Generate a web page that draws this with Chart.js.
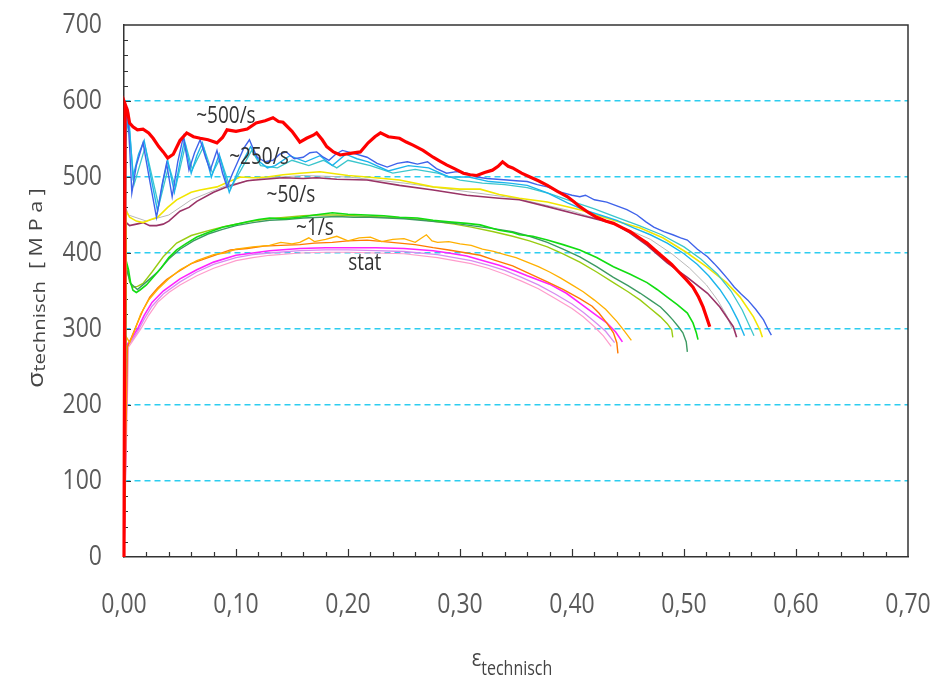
<!DOCTYPE html>
<html lang="de">
<head>
<meta charset="UTF-8">
<title>Spannung-Dehnung</title>
<script src="https://cdn.jsdelivr.net/npm/chart.js"></script>
<style>
  html, body { margin: 0; padding: 0; background: #fff; }
</style>
</head>
<body>
<canvas id="chart" width="930" height="679"></canvas>
<script>
// strain [-] / stress [MPa] pairs
const rate500 = [[0,0],[0.001,596],[0.003,588],[0.005,571],[0.008,566],[0.012,562],[0.017,563],[0.022,558],[0.026,551],[0.031,540],[0.035,533],[0.039,525],[0.044,530],[0.050,548],[0.056,558],[0.062,553],[0.068,551],[0.075,549],[0.083,545],[0.088,552],[0.092,562],[0.100,560],[0.110,563],[0.118,571],[0.126,574],[0.133,578],[0.138,573],[0.142,572],[0.150,560],[0.157,546],[0.163,551],[0.169,555],[0.172,558],[0.177,549],[0.181,540],[0.187,533],[0.193,529],[0.202,531],[0.211,533],[0.218,545],[0.224,553],[0.229,558],[0.236,553],[0.246,551],[0.252,546],[0.258,542],[0.267,535],[0.276,526],[0.282,521],[0.288,516],[0.295,511],[0.303,505],[0.309,503],[0.315,502],[0.322,506],[0.329,509],[0.334,514],[0.338,520],[0.343,514],[0.347,512],[0.355,505],[0.3625,500],[0.370,495],[0.378,489],[0.387,481],[0.396,474],[0.402,467],[0.407,461],[0.415,453],[0.422,447],[0.430,442],[0.437,439],[0.445,433],[0.452,428],[0.460,420],[0.467,413],[0.474,404],[0.481,395],[0.489,385],[0.496,374],[0.502,365],[0.508,355],[0.513,342],[0.517,329],[0.520,316],[0.523,303]];

const rate250a = [[0,0],[0.001,560],[0.003,592],[0.005,540],[0.007,479],[0.011,515],[0.017,545],[0.023,495],[0.029,447],[0.034,490],[0.038,518],[0.043,474],[0.048,520],[0.053,553],[0.058,509],[0.063,532],[0.068,549],[0.073,525],[0.077,509],[0.080,522],[0.083,535],[0.088,505],[0.092,487],[0.097,505],[0.101,518],[0.107,538],[0.112,549],[0.116,535],[0.119,526],[0.126,520],[0.133,522],[0.139,530],[0.145,533],[0.152,524],[0.160,526],[0.166,532],[0.172,533],[0.178,526],[0.183,522],[0.189,530],[0.195,535],[0.205,531],[0.217,526],[0.226,518],[0.235,513],[0.244,518],[0.253,520],[0.262,517],[0.271,520],[0.279,511],[0.288,505],[0.297,507],[0.306,505],[0.315,500],[0.324,498],[0.333,497],[0.342,496],[0.350,495],[0.360,494],[0.369,490],[0.378,487],[0.390,480],[0.400,476],[0.407,474],[0.412,476],[0.420,470],[0.431,467],[0.440,462],[0.449,457],[0.458,450],[0.466,441],[0.473,434],[0.482,428],[0.490,424],[0.497,420],[0.503,417],[0.512,405],[0.521,395],[0.527,386],[0.532,378],[0.539,366],[0.545,355],[0.551,346],[0.557,338],[0.564,326],[0.571,312],[0.575,300],[0.578,292]];

const rate250b = [[0,0],[0.001,540],[0.004,585],[0.008,500],[0.013,530],[0.018,548],[0.024,500],[0.030,455],[0.035,495],[0.039,522],[0.045,480],[0.050,520],[0.054,548],[0.060,505],[0.065,528],[0.070,545],[0.078,500],[0.085,530],[0.094,480],[0.103,512],[0.113,540],[0.121,520],[0.128,512],[0.135,515],[0.148,528],[0.162,520],[0.175,528],[0.186,515],[0.198,530],[0.208,524],[0.218,520],[0.236,508],[0.254,515],[0.272,512],[0.290,500],[0.308,500],[0.326,494],[0.344,492],[0.360,489],[0.378,479],[0.396,466],[0.410,457],[0.425,450],[0.440,443],[0.455,433],[0.470,424],[0.485,413],[0.500,399],[0.512,385],[0.522,370],[0.532,352],[0.541,332],[0.548,312],[0.554,291]];

const rate250c = [[0,0],[0.002,570],[0.005,560],[0.009,490],[0.019,540],[0.031,462],[0.040,515],[0.046,486],[0.055,543],[0.061,510],[0.071,540],[0.079,505],[0.086,525],[0.095,485],[0.104,508],[0.114,535],[0.122,515],[0.137,512],[0.150,522],[0.165,515],[0.178,522],[0.190,512],[0.200,522],[0.220,515],[0.240,505],[0.260,510],[0.280,505],[0.300,496],[0.320,492],[0.340,490],[0.360,486],[0.380,478],[0.400,468],[0.420,458],[0.440,447],[0.460,436],[0.480,424],[0.500,408],[0.515,392],[0.530,372],[0.542,350],[0.552,325],[0.5625,291]];

const rate50a = [[0,0],[0.002,455],[0.005,447],[0.011,442],[0.017,440],[0.024,444],[0.030,447],[0.039,460],[0.047,470],[0.060,480],[0.068,483],[0.083,487],[0.094,494],[0.104,500],[0.116,499],[0.128,500],[0.142,503],[0.157,505],[0.175,507],[0.200,502],[0.217,500],[0.246,496],[0.276,487],[0.300,484],[0.318,484],[0.335,477],[0.353,472],[0.378,467],[0.407,457],[0.437,443],[0.461,433],[0.481,420],[0.502,401],[0.520,382],[0.538,361],[0.550,342],[0.562,316],[0.568,298],[0.570,289]];

const rate50b = [[0,0],[0.002,440],[0.005,436],[0.011,438],[0.017,440],[0.023,436],[0.029,436],[0.035,438],[0.040,442],[0.050,455],[0.058,460],[0.065,468],[0.080,480],[0.092,487],[0.110,495],[0.125,497],[0.142,499],[0.160,498],[0.172,499],[0.190,497],[0.217,496],[0.246,489],[0.276,483],[0.306,476],[0.335,472],[0.353,470],[0.378,461],[0.407,450],[0.437,439],[0.450,428],[0.467,410],[0.485,387],[0.503,368],[0.521,347],[0.532,329],[0.544,303],[0.547,289]];

const rate50c = [[0,0],[0.002,458],[0.004,450],[0.020,442],[0.040,450],[0.060,470],[0.090,488],[0.120,498],[0.160,502],[0.200,500],[0.250,492],[0.300,482],[0.350,472],[0.400,455],[0.440,437],[0.470,418],[0.490,398],[0.505,380],[0.520,358],[0.530,338],[0.538,318],[0.543,300]];

const rate1a = [[0,0],[0.001,395],[0.004,378],[0.006,360],[0.008,351],[0.011,348],[0.014,351],[0.020,358],[0.026,368],[0.033,380],[0.040,394],[0.047,404],[0.055,412],[0.065,421],[0.075,427],[0.088,434],[0.098,437],[0.110,441],[0.120,444],[0.130,446],[0.143,445],[0.157,447],[0.170,450],[0.186,453],[0.200,451],[0.217,450],[0.232,449],[0.246,447],[0.262,446],[0.276,443],[0.290,441],[0.306,439],[0.318,437],[0.335,430],[0.347,427],[0.353,424],[0.365,422],[0.378,417],[0.392,411],[0.407,404],[0.422,394],[0.437,382],[0.452,372],[0.467,361],[0.476,352],[0.485,342],[0.494,332],[0.503,321],[0.508,308],[0.511,295],[0.5125,286]];

const rate1b = [[0,0],[0.002,380],[0.006,360],[0.012,352],[0.020,362],[0.030,375],[0.040,392],[0.050,405],[0.062,416],[0.075,425],[0.088,431],[0.100,436],[0.115,440],[0.130,443],[0.145,444],[0.160,446],[0.175,447],[0.190,448],[0.205,447],[0.220,447],[0.235,446],[0.250,445],[0.265,443],[0.280,441],[0.295,439],[0.310,436],[0.330,432],[0.347,428],[0.362,422],[0.378,414],[0.392,405],[0.407,395],[0.422,382],[0.437,368],[0.450,357],[0.461,347],[0.470,338],[0.479,329],[0.485,320],[0.490,312],[0.495,303],[0.499,295],[0.502,283],[0.503,270]];

const rate1c = [[0,0],[0.002,385],[0.005,362],[0.008,355],[0.012,356],[0.017,360],[0.025,375],[0.035,395],[0.047,413],[0.060,423],[0.077,430],[0.090,435],[0.100,438],[0.115,442],[0.130,445],[0.145,447],[0.160,449],[0.175,450],[0.190,450],[0.205,449],[0.220,448],[0.235,447],[0.250,446],[0.265,444],[0.280,441],[0.295,438],[0.310,434],[0.330,428],[0.347,422],[0.362,416],[0.378,408],[0.392,399],[0.407,388],[0.422,375],[0.437,361],[0.450,349],[0.461,338],[0.470,327],[0.479,316],[0.485,307],[0.489,299],[0.490,289]];

const statA = [[0,0],[0.003,276],[0.007,290],[0.012,308],[0.017,325],[0.023,342],[0.030,354],[0.038,365],[0.047,374],[0.060,386],[0.077,395],[0.095,404],[0.110,406],[0.125,409],[0.140,410],[0.157,411],[0.170,413],[0.186,414],[0.200,416],[0.217,417],[0.232,415],[0.246,413],[0.260,411],[0.276,407],[0.290,404],[0.306,400],[0.318,397],[0.330,391],[0.347,383],[0.362,373],[0.378,362],[0.392,352],[0.407,340],[0.418,330],[0.424,321],[0.431,308],[0.437,295],[0.440,282],[0.441,268]];

const statB = [[0,0],[0.002,290],[0.005,282],[0.010,300],[0.015,320],[0.022,338],[0.030,352],[0.040,366],[0.050,378],[0.065,390],[0.080,398],[0.090,400],[0.100,405],[0.115,408],[0.130,410],[0.140,414],[0.150,412],[0.157,414],[0.165,420],[0.170,415],[0.180,418],[0.190,422],[0.200,416],[0.210,420],[0.220,421],[0.230,415],[0.240,418],[0.250,419],[0.260,414],[0.270,424],[0.275,416],[0.280,414],[0.290,415],[0.300,412],[0.310,410],[0.320,405],[0.330,402],[0.340,398],[0.350,394],[0.360,388],[0.370,382],[0.380,375],[0.390,367],[0.400,358],[0.410,349],[0.420,338],[0.430,326],[0.440,310],[0.447,297],[0.453,285]];

const statC = [[0,0],[0.003,280],[0.007,288],[0.012,300],[0.018,318],[0.025,335],[0.035,350],[0.050,366],[0.065,378],[0.080,388],[0.100,397],[0.115,400],[0.130,403],[0.157,406],[0.180,407],[0.200,407],[0.225,407],[0.250,406],[0.276,403],[0.290,400],[0.306,396],[0.320,390],[0.335,384],[0.350,376],[0.360,370],[0.380,359],[0.395,347],[0.407,334],[0.420,320],[0.431,308],[0.439,296],[0.445,283]];

const statD = [[0,0],[0.003,278],[0.007,285],[0.012,296],[0.018,313],[0.025,330],[0.035,346],[0.050,362],[0.065,375],[0.080,385],[0.100,394],[0.115,398],[0.130,400],[0.157,403],[0.180,404],[0.200,404],[0.225,403],[0.250,402],[0.280,398],[0.310,390],[0.325,384],[0.340,377],[0.355,368],[0.370,358],[0.385,346],[0.400,333],[0.410,322],[0.420,310],[0.430,297],[0.438,282]];

const statE = [[0,0],[0.004,276],[0.009,287],[0.015,300],[0.022,318],[0.030,335],[0.040,348],[0.050,358],[0.065,370],[0.080,380],[0.100,390],[0.115,394],[0.130,397],[0.157,400],[0.180,401],[0.200,401],[0.225,400],[0.250,399],[0.280,394],[0.310,386],[0.325,380],[0.340,372],[0.355,363],[0.370,353],[0.385,340],[0.400,327],[0.410,316],[0.420,303],[0.428,291],[0.435,277]];

const seriesData = [rate500, rate250a, rate250b, rate250c, rate50a, rate50b, rate50c, rate1a, rate1b, rate1c, statB, statA, statC, statD, statE];
const seriesColors = ['#ff0000', '#3f63ea', '#1cb4ec', '#3cc6cc', '#f2e600', '#993366', '#b8b8b8', '#11dd11', '#3c9a62', '#99cc11', '#ffb000', '#ff7a00', '#ff22ff', '#d78cf0', '#ff9ccc'];
const seriesWidths = [3.2, 1.4, 1.4, 1.3, 1.6, 1.6, 1, 1.6, 1.4, 1.4, 1.3, 1.4, 1.6, 1.3, 1.2];

const rateLabels = ['~500/s', '~250/s', '~50/s', '~1/s', 'stat'];
const rateLabelX = [0.091, 0.1205, 0.149, 0.1705, 0.215];
const rateLabelY = [579, 526, 475, 432, 386];

const xTicks = [0, 0.1, 0.2, 0.3, 0.4, 0.5, 0.6, 0.7];
const yTicks = [0, 100, 200, 300, 400, 500, 600, 700];

const STRETCH = 1.2; // the picture's lettering is taller than wide

function putText(ctx, str, x, y, size, color, align) {
  ctx.save();
  ctx.translate(x, y);
  ctx.scale(1, STRETCH);
  ctx.font = size + 'px "Open Sans"';
  ctx.fillStyle = color;
  ctx.textAlign = align;
  ctx.textBaseline = 'middle';
  ctx.fillText(str, 0, 0);
  ctx.restore();
}

const decorations = {
  id: 'decorations',
  beforeDatasetsDraw(chart) {
    const ctx = chart.ctx;
    const a = chart.chartArea;
    const xs = chart.scales.x, ys = chart.scales.y;
    ctx.save();
    ctx.strokeStyle = '#333';
    ctx.lineWidth = 1.5;
    ctx.beginPath();
    ctx.moveTo(a.left, a.top);
    ctx.lineTo(a.right, a.top);
    ctx.lineTo(a.right, a.bottom);
    ctx.stroke();
    // inward ticks
    ctx.lineWidth = 1.2;
    ctx.beginPath();
    for (let v = 20; v < 700; v += 20) {
      const py = Math.round(ys.getPixelForValue(v)) + 0.5;
      const len = v % 100 === 0 ? 7 : 4;
      ctx.moveTo(a.left, py);
      ctx.lineTo(a.left + len, py);
    }
    for (let i = 1; i < 35; i++) {
      const px = Math.round(xs.getPixelForValue(i * 0.02)) + 0.5;
      const len = i % 5 === 0 ? 8 : 5;
      ctx.moveTo(px, a.bottom);
      ctx.lineTo(px, a.bottom - len);
    }
    ctx.stroke();
    ctx.restore();
  },
  afterDraw(chart) {
    const ctx = chart.ctx;
    const a = chart.chartArea;
    const xs = chart.scales.x, ys = chart.scales.y;
    yTicks.forEach(v => putText(ctx, String(v), 102, ys.getPixelForValue(v), 23, '#5a5a5a', 'right'));
    xTicks.forEach(v => putText(ctx, v.toFixed(2).replace('.', ','), xs.getPixelForValue(v), 605, 23, '#5a5a5a', 'center'));
    rateLabels.forEach((t, i) => putText(ctx, t, xs.getPixelForValue(rateLabelX[i]), ys.getPixelForValue(rateLabelY[i]), 19, '#333', 'center'));

    // x axis title: epsilon with subscript
    ctx.save();
    ctx.fillStyle = '#444';
    ctx.textBaseline = 'alphabetic';
    ctx.font = '20px "Open Sans"';
    const eW = ctx.measureText('ε').width;
    ctx.font = '16px "Open Sans"';
    const tW = ctx.measureText('technisch').width;
    let x0 = 512 - (eW + tW) / 2;
    ctx.translate(0, 0);
    ctx.save(); ctx.translate(x0, 666); ctx.scale(1, STRETCH);
    ctx.font = '20px "Open Sans"'; ctx.fillText('ε', 0, 0); ctx.restore();
    ctx.save(); ctx.translate(x0 + eW, 675); ctx.scale(1, STRETCH);
    ctx.font = '16px "Open Sans"'; ctx.fillText('technisch', 0, 0); ctx.restore();
    ctx.restore();

    // y axis title, rotated
    ctx.save();
    ctx.fillStyle = '#444';
    ctx.textBaseline = 'alphabetic';
    ctx.translate(45, 288);
    ctx.rotate(-Math.PI / 2);
    ctx.scale(STRETCH, 1);
    ctx.font = '22px "Open Sans"';
    const sW = ctx.measureText('σ').width;
    ctx.font = '17px "Open Sans"';
    const t2W = ctx.measureText('technisch').width;
    ctx.font = '18px "Open Sans"';
    const uW = ctx.measureText('[ M P a ]').width;
    const gap = 10;
    let s0 = -(sW + t2W + gap + uW) / 2;
    ctx.font = '22px "Open Sans"'; ctx.fillText('σ', s0, -2);
    ctx.font = '17px "Open Sans"'; ctx.fillText('technisch', s0 + sW, 0);
    ctx.font = '18px "Open Sans"'; ctx.fillText('[ M P a ]', s0 + sW + t2W + gap, -3);
    ctx.restore();
  }
};

const datasets = seriesData.map((pts, i) => ({
  data: pts.map(p => ({ x: p[0], y: p[1] })),
  borderColor: seriesColors[i],
  borderWidth: seriesWidths[i],
  showLine: true,
  pointRadius: 0,
  fill: false,
  tension: 0,
  clip: 4
}));

new Chart(document.getElementById('chart').getContext('2d'), {
  type: 'scatter',
  data: { datasets: datasets },
  options: {
    responsive: false,
    animation: false,
    layout: { padding: { top: 25, right: 22, left: 0, bottom: 0 } },
    plugins: {
      legend: { display: false },
      tooltip: { enabled: false }
    },
    scales: {
      x: {
        type: 'linear',
        min: 0,
        max: 0.7,
        ticks: { display: false, stepSize: 0.1 },
        grid: { display: false, drawTicks: false },
        border: { display: true, color: '#333', width: 1.5 },
        afterFit(s) { s.height = 122; }
      },
      y: {
        type: 'linear',
        min: 0,
        max: 700,
        ticks: { display: false, stepSize: 100 },
        grid: {
          drawTicks: false,
          lineWidth: 1.5,
          color: c => (c.tick.value > 0 && c.tick.value < 700) ? '#2ccdf0' : 'rgba(0,0,0,0)'
        },
        border: { display: true, color: '#333', width: 1.5, dash: [6, 4] },
        afterFit(s) { s.width = 124; }
      }
    }
  },
  plugins: [decorations]
});
</script>
</body>
</html>
